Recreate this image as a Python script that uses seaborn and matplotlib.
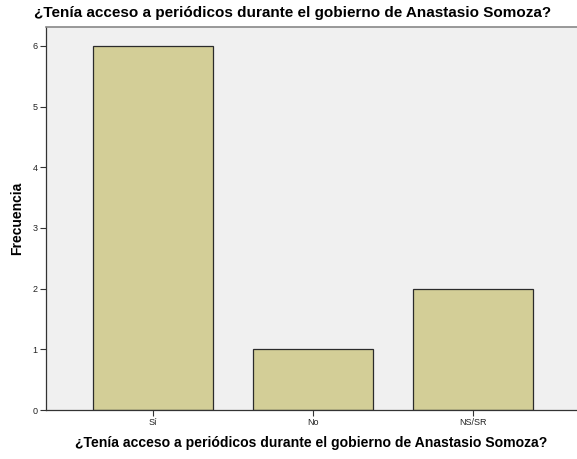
import matplotlib
matplotlib.use("Agg")
import matplotlib.pyplot as plt
import seaborn as sns
import pandas as pd

categories = ["Sí", "No", "NS/SR"]
counts = [6, 1, 2]
title = "¿Tenía acceso a periódicos durante el gobierno de Anastasio Somoza?"

df = pd.DataFrame({"resp": categories, "n": counts})

sns.set_style("white")
plt.rcParams["font.family"] = ["Liberation Sans", "DejaVu Sans"]
plt.rcParams["text.color"] = "black"
plt.rcParams["axes.labelcolor"] = "black"

fig = plt.figure(figsize=(5.77, 4.59), dpi=100)
ax = fig.add_axes([46 / 577, 49 / 459, 531 / 577, 383 / 459])
ax.set_facecolor("#F0F0F0")

sns.barplot(data=df, x="resp", y="n", color="#D3CE97", width=0.75,
            edgecolor="#2b2b2b", linewidth=0.9, saturation=1, ax=ax)

ax.set_xlim(-0.669, 2.65)
ax.set_ylim(0, 6.31)
ax.set_yticks(range(0, 7))
ax.tick_params(axis="both", labelsize=6.5, length=4, width=0.8, color="#333333",
               labelcolor="#222222", direction="out", pad=2)
ax.tick_params(axis="y", left=True)
ax.tick_params(axis="x", bottom=True)

for s in ["left", "bottom"]:
    ax.spines[s].set_color("#333333")
    ax.spines[s].set_linewidth(0.9)
ax.spines["top"].set_color("#888888")
ax.spines["top"].set_linewidth(1.2)
ax.spines["right"].set_visible(False)

ax.set_xlabel(title, fontsize=10.1, fontweight="bold", labelpad=6)
ax.set_ylabel("Frecuencia", fontsize=10, fontweight="bold", labelpad=6)
fig.text(0.5 * (34 + 551) / 577, 1 - 13 / 459, title, fontsize=11, fontweight="bold",
         ha="center", va="center")

fig.savefig("out.png", dpi=100)
